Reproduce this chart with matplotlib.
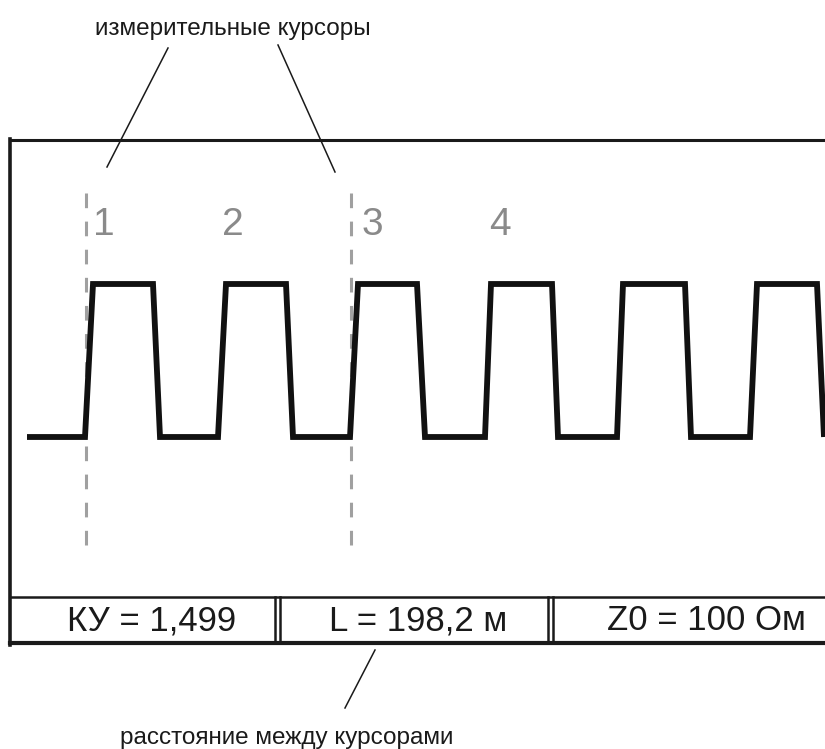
import matplotlib
matplotlib.use("Agg")
import matplotlib.pyplot as plt

plt.rcParams['font.family'] = ['Liberation Sans', 'DejaVu Sans']

# --- данные схемы (в пикселях картинки) ---
# фронты сигнала: x точек излома и состояние (0 = низ, 1 = верх)
wave_x = [27, 85, 93, 153, 160, 218, 226, 286, 293, 350, 358, 417, 425,
          485, 491, 552, 558, 617, 623, 685, 691, 750, 757, 817, 824]
wave_state = [0, 0, 1, 1, 0, 0, 1, 1, 0, 0, 1, 1, 0,
              0, 1, 1, 0, 0, 1, 1, 0, 0, 1, 1, 0]

cursor_x = [86, 351]
marker_labels = ['1', '2', '3', '4']
marker_x = [104, 233, 372, 500]

info_labels = ['КУ = 1,499', 'L = 198,2 м', 'Z0 = 100 Ом']
info_x = [152, 418, 706]
box_left = [10, 280, 553]
box_right = [275, 548, 830]

top_caption = 'измерительные курсоры'
bottom_caption = 'расстояние между курсорами'

LOW_Y, HIGH_Y = 437, 284

fig = plt.figure(figsize=(8.25, 7.49), dpi=100)
ax = fig.add_axes([0, 0, 1, 1])
ax.set_xlim(0, 825)
ax.set_ylim(749, 0)
ax.axis('off')

# рамка экрана
ax.plot([10, 830], [140, 140], color='#1a1a1a', lw=2.2)
ax.plot([10, 10], [139, 645], color='#1a1a1a', lw=2.6)

# строка с результатами
ax.plot([10, 830], [597, 597], color='#1a1a1a', lw=1.8)
ax.plot([10, 830], [643, 643], color='#1a1a1a', lw=3.0)
for l, r in zip(box_left, box_right):
    if l > 10:
        ax.plot([l, l], [597, 643], color='#1a1a1a', lw=1.8)
    ax.plot([r, r], [597, 643], color='#1a1a1a', lw=1.8)
for x, s in zip(info_x, info_labels):
    ax.text(x, 621, s, ha='center', va='center', fontsize=25, color='#1a1a1a')

# курсоры
for x in cursor_x:
    ax.plot([x, x], [193, 556], color='#a0a0a0', lw=2.2,
            linestyle=(0, (4.8, 4.4)))
for x, s in zip(marker_x, marker_labels):
    ax.text(x, 235, s, ha='center', va='baseline', fontsize=28, color='#8a8a8a')

# сигнал
wave_y = [HIGH_Y if s else LOW_Y for s in wave_state]
ax.plot(wave_x, wave_y, color='#111111', lw=4.2, solid_joinstyle='miter',
        solid_capstyle='butt')

# подписи и выноски
ax.text(95, 35, top_caption, ha='left', va='baseline', fontsize=17.5, color='#1a1a1a')
ax.plot([168, 107], [48, 167], color='#1a1a1a', lw=1.1)
ax.plot([278, 335], [45, 172], color='#1a1a1a', lw=1.1)

ax.plot([375, 345], [650, 708], color='#1a1a1a', lw=1.1)
ax.text(287, 744, bottom_caption, ha='center', va='baseline', fontsize=17.5, color='#1a1a1a')

fig.savefig('out.png', dpi=100)
